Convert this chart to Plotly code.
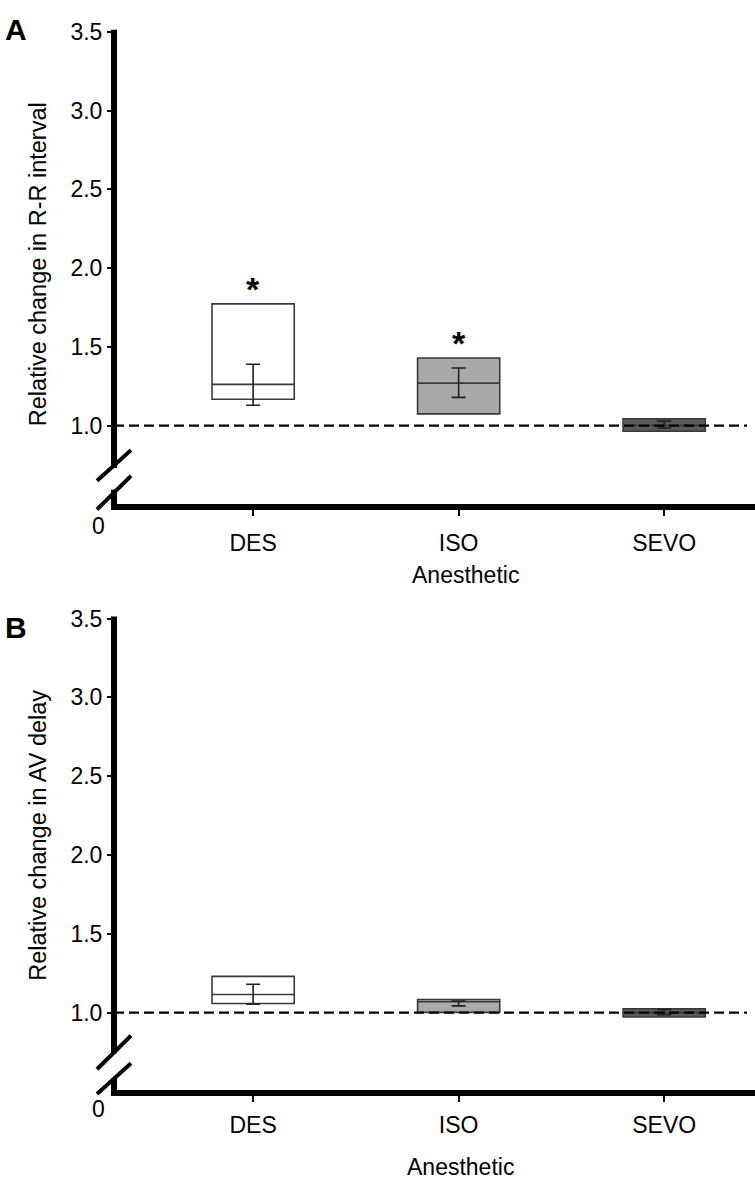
import plotly.graph_objects as go

W, H = 755, 1179
FONT = "Liberation Sans, Arial, sans-serif"

categories = ["DES", "ISO", "SEVO"]
y_ticks = [1.0, 1.5, 2.0, 2.5, 3.0, 3.5]
fill_colors = ["#ffffff", "#a9a9a9", "#5a5a5a"]

# Panel A: relative change in R-R interval
rr_q1 = [1.168, 1.075, 0.965]
rr_median = [1.262, 1.270, 1.002]
rr_q3 = [1.773, 1.430, 1.044]
rr_mean = [1.260, 1.273, 1.007]
rr_sem = [0.130, 0.093, 0.022]
rr_sig = ["*", "*", ""]

# Panel B: relative change in AV delay
av_q1 = [1.058, 1.002, 0.972]
av_median = [1.115, 1.069, 1.000]
av_q3 = [1.230, 1.083, 1.025]
av_mean = [1.117, 1.058, 1.004]
av_sem = [0.063, 0.015, 0.017]
av_sig = ["", "", ""]


def fx(p):
    return p / W


def fy(p):
    return 1 - p / H


panels = [
    dict(q1=rr_q1, med=rr_median, q3=rr_q3, mean=rr_mean, sem=rr_sem, sig=rr_sig,
         top=19.0, axis=499.5, ymin=0.484, title="Relative change in R-R interval",
         title_y=254, letter="A", letter_y=17, xt_y=568, xt_x=465, zero_y=519,
         gap=(460, 482), slashes=[((97, 473), (131, 442)), ((97, 502), (131, 468))],
         standoff=7),
    dict(q1=av_q1, med=av_median, q3=av_q3, mean=av_mean, sem=av_sem, sig=av_sig,
         top=612.3, axis=1092.0, ymin=0.4906, title="Relative change in AV delay",
         title_y=832, letter="B", letter_y=621, xt_y=1167, xt_x=460, zero_y=1108,
         gap=(1052, 1077), slashes=[((97, 1068), (131, 1034)), ((97, 1093), (131, 1062))],
         standoff=3),
]

AXIS_X = 114.0
XRANGE = [-0.677, 2.442]

fig = go.Figure()
shapes = []
annotations = []
layout_axes = {}

for i, p in enumerate(panels):
    n = "" if i == 0 else str(i + 1)
    xa, ya = "x" + n, "y" + n
    for c, cat in enumerate(categories):
        fig.add_trace(go.Box(
            x=[cat], q1=[p["q1"][c]], median=[p["med"][c]], q3=[p["q3"][c]],
            lowerfence=[p["q1"][c]], upperfence=[p["q3"][c]],
            fillcolor=fill_colors[c], line=dict(color="#3a3a3a", width=1.6),
            width=0.4, whiskerwidth=0, boxpoints=False, showlegend=False,
            hoverinfo="skip", xaxis=xa, yaxis=ya,
        ))
    fig.add_trace(go.Scatter(
        x=categories, y=p["mean"], mode="markers",
        marker=dict(color="rgba(0,0,0,0)", size=1),
        error_y=dict(type="data", array=p["sem"], width=7, thickness=1.6, color="#222222"),
        showlegend=False, hoverinfo="skip", xaxis=xa, yaxis=ya,
    ))
    # significance markers
    for c, cat in enumerate(categories):
        if p["sig"][c]:
            annotations.append(dict(
                x=cat, y=p["q3"][c], xref=xa, yref=ya, text="<b>" + p["sig"][c] + "</b>",
                showarrow=False, yanchor="bottom", yshift=-6,
                font=dict(family=FONT, size=34, color="black"),
            ))
    # reference line at 1.0
    shapes.append(dict(type="line", xref=xa + " domain", yref=ya, x0=0.0, x1=0.9875,
                       y0=1.0, y1=1.0, line=dict(color="black", width=2.3, dash="10px,5px")))

    dom_y = [fy(p["axis"]), fy(p["top"])]
    layout_axes["xaxis" + n] = dict(
        domain=[fx(AXIS_X), 1.0], anchor=ya, type="category",
        categoryorder="array", categoryarray=categories, range=XRANGE,
        showgrid=False, zeroline=False, showline=False,
        ticks="outside", ticklen=8, tickwidth=2, tickcolor="black",
        ticklabelstandoff=p["standoff"],
        tickfont=dict(family=FONT, size=23, color="black"),
    )
    layout_axes["yaxis" + n] = dict(
        domain=dom_y, anchor=xa, range=[p["ymin"], 3.5],
        tickvals=y_ticks, tickformat=".1f",
        showgrid=False, zeroline=False, showline=False,
        ticks="outside", ticklen=6, tickwidth=2, tickcolor="black",
        tickfont=dict(family=FONT, size=23, color="black"),
    )

    # axis lines with break
    g0, g1 = p["gap"]
    shapes.append(dict(type="line", xref="paper", yref="paper",
                       x0=fx(AXIS_X), x1=fx(AXIS_X), y0=fy(p["top"] - 2), y1=fy(g0),
                       line=dict(color="black", width=6)))
    shapes.append(dict(type="line", xref="paper", yref="paper",
                       x0=fx(AXIS_X), x1=fx(AXIS_X), y0=fy(g1), y1=fy(p["axis"] + 3),
                       line=dict(color="black", width=6)))
    shapes.append(dict(type="line", xref="paper", yref="paper",
                       x0=fx(AXIS_X - 3), x1=1.0, y0=fy(p["axis"]), y1=fy(p["axis"]),
                       line=dict(color="black", width=6)))
    for (a, b) in p["slashes"]:
        shapes.append(dict(type="line", xref="paper", yref="paper",
                           x0=fx(a[0]), y0=fy(a[1]), x1=fx(b[0]), y1=fy(b[1]),
                           line=dict(color="black", width=4)))

    annotations.append(dict(x=fx(98), y=fy(p["zero_y"]), xref="paper", yref="paper",
                            text="0", showarrow=False, xanchor="center", yanchor="middle",
                            font=dict(family=FONT, size=23, color="black")))
    annotations.append(dict(x=fx(38), y=fy(p["title_y"]), xref="paper", yref="paper",
                            text=p["title"], textangle=-90, showarrow=False,
                            xanchor="center", yanchor="middle",
                            font=dict(family=FONT, size=23.5, color="black")))
    annotations.append(dict(x=fx(p["xt_x"]), y=fy(p["xt_y"]), xref="paper", yref="paper",
                            text="Anesthetic", showarrow=False,
                            xanchor="center", yanchor="middle",
                            font=dict(family=FONT, size=23, color="black")))
    annotations.append(dict(x=fx(16), y=fy(p["letter_y"]), xref="paper", yref="paper",
                            text="<b>" + p["letter"] + "</b>", showarrow=False,
                            xanchor="center", yanchor="middle",
                            font=dict(family=FONT, size=30, color="black")))

fig.update_layout(
    width=W, height=H, autosize=False,
    margin=dict(l=0, r=0, t=0, b=0),
    paper_bgcolor="white", plot_bgcolor="white",
    boxmode="overlay", showlegend=False,
    shapes=shapes, annotations=annotations,
    **layout_axes,
)

fig.write_html(
    "out.html",
    config={"displayModeBar": False},
    post_script="document.documentElement.style.margin='0';"
                "document.body.style.margin='0';"
                "document.documentElement.style.overflow='hidden';"
                "document.body.style.overflow='hidden';",
)
